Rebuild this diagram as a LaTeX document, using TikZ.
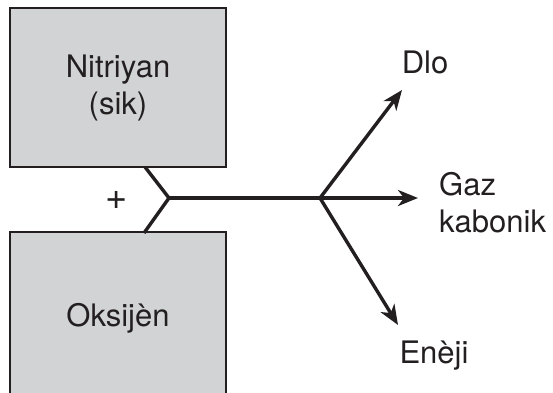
\documentclass[tikz,border=0pt]{standalone}
\usepackage{fontspec}
\setmainfont{TeX Gyre Heros}
\usetikzlibrary{arrows.meta}
\definecolor{ink}{HTML}{231F20}
\definecolor{boxgray}{HTML}{D1D3D4}
\tikzset{
  box/.style={draw=ink, fill=boxgray, line width=2.2pt, inner sep=0pt, align=center, text=ink},
  lbl/.style={text=ink, inner sep=0pt, align=center},
  conn/.style={draw=ink, line width=3.4pt},
  arr/.style={conn, -{Stealth[length=20pt,width=16pt,inset=6pt]}}
}
\begin{document}
\begin{tikzpicture}[x=1pt,y=-1pt, font=\fontsize{31}{37}\selectfont]
\useasboundingbox (0,0) rectangle (553,392);
\fill[white] (0,0) rectangle (553,392);
\clip (0,0) rectangle (553,392);
\node[box, minimum width=216pt, minimum height=159pt] (nit) at (118,87.5) {Nitriyan\\(sik)};
\node[box, minimum width=216pt, minimum height=172pt] (oks) at (118,318) {Oksijèn};
\coordinate (j1) at (145,167);
\coordinate (j2) at (144,233);
\coordinate (j) at (169,198);
\coordinate (b) at (320,198);
\coordinate (tdlo) at (402,90);
\coordinate (tgaz) at (418,198);
\coordinate (ten) at (398,325);
\node[lbl, font=\fontsize{38}{40}\selectfont] (plus) at (117,200) {+};
\node[lbl] (dlo) at (425,62) {Dlo};
\node[lbl, anchor=west, align=left] (gaz) at (439,203) {Gaz\\kabonik};
\node[lbl] (en) at (434,356) {Enèji};
\draw[conn, line join=miter] (j1) -- (j) -- (j2);
\draw[conn] (j) -- (b);
\draw[arr] (b) -- (tdlo);
\draw[arr] (b) -- (tgaz);
\draw[arr] (b) -- (ten);
\end{tikzpicture}
\end{document}
